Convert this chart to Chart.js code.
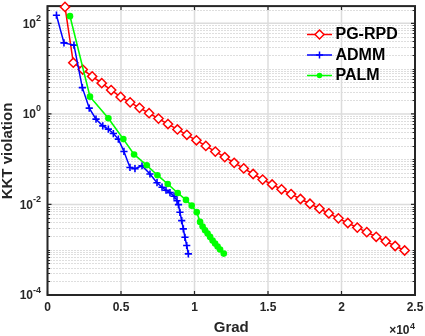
<!DOCTYPE html>
<html>
<head>
<meta charset="utf-8">
<script src="https://cdn.jsdelivr.net/npm/chart.js@4.4.1/dist/chart.umd.min.js"></script>
<style>
  html, body { margin: 0; padding: 0; background: #fff; }
  canvas { display: block; }
</style>
</head>
<body>
<canvas id="chart" width="425" height="336"></canvas>
<script>
// ---------------- DATA ----------------
const rpdGrad = [1190, 1755, 2400, 3040, 3690, 4330, 4975, 5620, 6260, 6910, 7550, 8195, 8840, 9480, 10130,
  10770, 11415, 12060, 12700, 13350, 13990, 14635, 15280, 15920, 16570, 17210, 17855, 18500, 19140, 19790,
  20430, 21075, 21720, 22360, 23010, 23650, 24295];
const rpdKkt = [230, 13.5, 9.53, 6.73, 4.77, 3.36, 2.37, 1.80, 1.36, 1.036, 0.788, 0.596, 0.453, 0.345, 0.261,
  0.196, 0.147, 0.111, 0.0829, 0.0624, 0.047, 0.0354, 0.0276, 0.0216, 0.0169, 0.0132, 0.01036, 0.00808, 0.00634, 0.00494,
  0.00389, 0.00308, 0.00244, 0.00193, 0.00153, 0.00121, 0.00096];

const admmGrad = [610, 1120, 1800, 2370, 2840, 3300, 3760, 4140, 4480, 4820, 5200, 5610, 5950, 6430, 6970,
  7450, 7790, 8060, 8330, 8610, 8810, 8910, 9010, 9130, 9240, 9350, 9470, 9580];
const admmKkt = [151, 37, 33, 3.8, 1.34, 0.764, 0.544, 0.46, 0.368, 0.277, 0.148, 0.0656, 0.0615, 0.0716, 0.047,
  0.0302, 0.024, 0.0206, 0.0182, 0.0152, 0.0121, 0.0099, 0.0067, 0.0044, 0.00288, 0.00188, 0.00124, 0.00081];

const palmGrad = [1530, 2890, 4140, 5160, 5890, 6750, 7480, 8180, 8860, 9420, 9810, 10150, 10380, 10550, 10720,
  10890, 11060, 11230, 11400, 11570, 11740, 11990];
const palmKkt = [144, 2.4, 0.80, 0.277, 0.127, 0.0734, 0.0442, 0.0283, 0.0179, 0.0126, 0.0094, 0.00676, 0.00412, 0.00324, 0.00269,
  0.00228, 0.00192, 0.0016, 0.00137, 0.00118, 0.00101, 0.00082];

const legendLabels = ["PG-RPD", "ADMM", "PALM"];
const xTicks = [0, 5000, 10000, 15000, 20000, 25000];
const xTickLabels = ["0", "0.5", "1", "1.5", "2", "2.5"];
const yMajorExp = [-4, -2, 0, 2];

const FONT = '"Liberation Sans", Arial, Helvetica, sans-serif';
const AXIS = "#262626";

function pts(xs, ys) {
    return xs.map((v, i) => ({ x: v, y: ys[i] }));
}

// minor log ticks: everything from 1e-4 to max that is not a labelled decade
function minorValues(max) {
    const out = [];
    for (let e = -4; e <= 2; e++) {
        for (let k = 1; k <= 9; k++) {
            const v = k * Math.pow(10, e);
            if (v > max) continue;
            if (k === 1 && yMajorExp.includes(e)) continue;
            out.push(v);
        }
    }
    return out;
}

function drawMarker(ctx, style, x, y, color) {
    ctx.save();
    ctx.strokeStyle = color;
    ctx.fillStyle = color;
    ctx.lineWidth = 1.5;
    ctx.beginPath();
    if (style === "diamond") {
        ctx.moveTo(x, y - 4.5); ctx.lineTo(x + 4.5, y); ctx.lineTo(x, y + 4.5); ctx.lineTo(x - 4.5, y); ctx.closePath();
        ctx.fillStyle = "#fff"; ctx.fill(); ctx.stroke();
    } else if (style === "cross") {
        ctx.moveTo(x - 3.5, y); ctx.lineTo(x + 3.5, y); ctx.moveTo(x, y - 3.5); ctx.lineTo(x, y + 3.5);
        ctx.stroke();
    } else {
        ctx.arc(x, y, 2.8, 0, Math.PI * 2); ctx.fill();
    }
    ctx.restore();
}

// ---------------- AXES PLUGIN ----------------
const axesPlugin = {
    id: "axesPlugin",
    beforeDatasetsDraw(chart) {
        const { ctx, chartArea: a, scales: { x, y } } = chart;
        ctx.save();
        // minor horizontal grid (dotted)
        ctx.strokeStyle = "#bdbdbd";
        ctx.lineWidth = 1;
        ctx.setLineDash([1, 2]);
        for (const v of minorValues(y.max)) {
            const py = Math.round(y.getPixelForValue(v)) + 0.5;
            ctx.beginPath(); ctx.moveTo(a.left, py); ctx.lineTo(a.right, py); ctx.stroke();
        }
        // major grid
        ctx.setLineDash([]);
        ctx.strokeStyle = "#dcdcdc";
        ctx.lineWidth = 1.5;
        for (const e of yMajorExp) {
            const py = y.getPixelForValue(Math.pow(10, e));
            ctx.beginPath(); ctx.moveTo(a.left, py); ctx.lineTo(a.right, py); ctx.stroke();
        }
        for (const v of xTicks) {
            const px = x.getPixelForValue(v);
            ctx.beginPath(); ctx.moveTo(px, a.top); ctx.lineTo(px, a.bottom); ctx.stroke();
        }

        // frame + ticks
        ctx.strokeStyle = AXIS;
        ctx.lineWidth = 2;
        ctx.strokeRect(a.left, a.top, a.right - a.left, a.bottom - a.top);
        ctx.lineWidth = 1.2;
        ctx.beginPath();
        for (const v of xTicks) {
            const px = x.getPixelForValue(v);
            ctx.moveTo(px, a.bottom); ctx.lineTo(px, a.bottom - 4);
            ctx.moveTo(px, a.top); ctx.lineTo(px, a.top + 4);
        }
        for (const e of yMajorExp) {
            const py = y.getPixelForValue(Math.pow(10, e));
            ctx.moveTo(a.left, py); ctx.lineTo(a.left + 4, py);
            ctx.moveTo(a.right, py); ctx.lineTo(a.right - 4, py);
        }
        for (const v of minorValues(y.max)) {
            const py = Math.round(y.getPixelForValue(v)) + 0.5;
            ctx.moveTo(a.left, py); ctx.lineTo(a.left + 2.5, py);
            ctx.moveTo(a.right, py); ctx.lineTo(a.right - 2.5, py);
        }
        ctx.stroke();

        // tick labels
        ctx.fillStyle = AXIS;
        ctx.font = "bold 12px " + FONT;
        ctx.textAlign = "center";
        ctx.textBaseline = "middle";
        xTicks.forEach((v, i) => ctx.fillText(xTickLabels[i], x.getPixelForValue(v), 307.5));

        for (const e of yMajorExp) {
            const py = y.getPixelForValue(Math.pow(10, e));
            const right = 41;
            const exp = String(e);
            ctx.font = "bold 12px " + FONT;
            const wb = ctx.measureText("10").width;
            ctx.font = "bold 9px " + FONT;
            const we = ctx.measureText(exp).width;
            ctx.textAlign = "left";
            ctx.textBaseline = "middle";
            ctx.font = "bold 12px " + FONT;
            ctx.fillText("10", right - we - wb, py + 1);
            ctx.font = "bold 9px " + FONT;
            ctx.textBaseline = "alphabetic";
            ctx.fillText(exp, right - we, py - 2.5);
        }

        // x axis label and multiplier
        ctx.font = "bold 15px " + FONT;
        ctx.textAlign = "center";
        ctx.textBaseline = "middle";
        ctx.fillText("Grad", (a.left + a.right) / 2, 327.5);
        ctx.font = "bold 9px " + FONT;
        const w4 = ctx.measureText("4").width;
        ctx.textAlign = "right";
        ctx.textBaseline = "alphabetic";
        ctx.fillText("4", a.right, 328.5);
        ctx.font = "bold 12px " + FONT;
        ctx.textBaseline = "middle";
        ctx.fillText("\u00d710", a.right - w4 - 0.5, 331);

        // y axis label
        ctx.save();
        ctx.translate(7.5, 151);
        ctx.rotate(-Math.PI / 2);
        ctx.font = "bold 15px " + FONT;
        ctx.textAlign = "center";
        ctx.textBaseline = "middle";
        ctx.fillText("KKT violation", 0, 0);
        ctx.restore();

        ctx.restore();
    },
    afterDatasetsDraw(chart) {
        const { ctx } = chart;
        const styles = ["diamond", "cross", "dot"];
        const colors = ["#ff0000", "#0000ff", "#00ff00"];
        const rows = [34.5, 55, 75.5];
        ctx.save();
        legendLabels.forEach((label, i) => {
            ctx.strokeStyle = colors[i];
            ctx.lineWidth = 1.5;
            ctx.beginPath(); ctx.moveTo(307, rows[i]); ctx.lineTo(332, rows[i]); ctx.stroke();
            drawMarker(ctx, styles[i], 319.5, rows[i], colors[i]);
            ctx.fillStyle = "#000";
            ctx.font = "bold 16px " + FONT;
            ctx.textAlign = "left";
            ctx.textBaseline = "middle";
            ctx.fillText(label, 335.5, rows[i] + 0.5);
        });
        ctx.restore();
    }
};

// ---------------- CHART ----------------
const ctx = document.getElementById("chart").getContext("2d");
new Chart(ctx, {
    type: "line",
    data: {
        datasets: [
            {
                label: legendLabels[0],
                data: pts(rpdGrad, rpdKkt),
                borderColor: "#ff0000",
                borderWidth: 1.5,
                pointStyle: "rectRot",
                pointRadius: 4.6,
                pointBorderWidth: 1.5,
                pointBackgroundColor: "#ffffff",
                pointBorderColor: "#ff0000",
                clip: false,
                order: 3
            },
            {
                label: legendLabels[1],
                data: pts(admmGrad, admmKkt),
                borderColor: "#0000ff",
                borderWidth: 1.5,
                pointStyle: "cross",
                pointRadius: 3.6,
                pointBorderWidth: 1.6,
                pointBorderColor: "#0000ff",
                clip: false,
                order: 2
            },
            {
                label: legendLabels[2],
                data: pts(palmGrad, palmKkt),
                borderColor: "#00ff00",
                borderWidth: 1.6,
                pointStyle: "circle",
                pointRadius: 3.3,
                pointBorderWidth: 0,
                pointBackgroundColor: "#00ff00",
                clip: false,
                order: 1
            }
        ]
    },
    options: {
        responsive: false,
        animation: false,
        events: [],
        layout: { padding: { left: 47.5, right: 10, top: 6, bottom: 41 } },
        elements: { line: { tension: 0, fill: false } },
        plugins: { legend: { display: false }, tooltip: { enabled: false } },
        scales: {
            x: { type: "linear", display: false, min: 0, max: 25000 },
            y: { type: "logarithmic", display: false, min: 1e-4, max: 240 }
        }
    },
    plugins: [axesPlugin]
});
</script>
</body>
</html>
